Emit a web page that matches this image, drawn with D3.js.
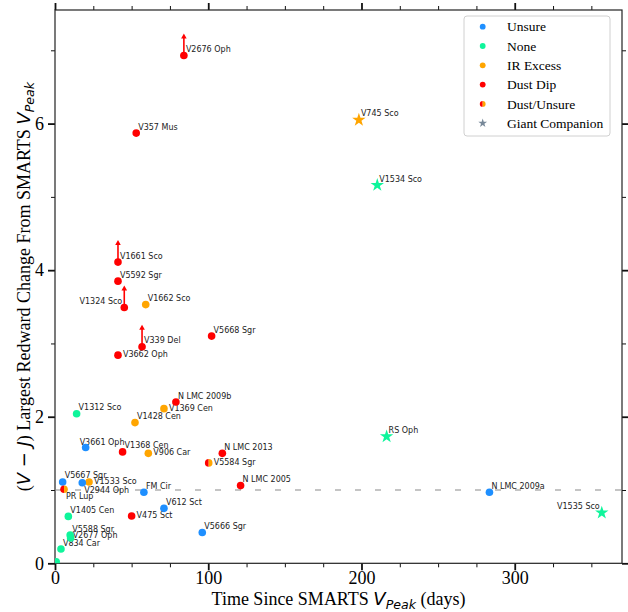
<!DOCTYPE html>
<html>
<head>
<meta charset="utf-8">
<script src="https://cdn.jsdelivr.net/npm/d3@7"></script>
<style>
  body { margin: 0; background: #fff; }
  svg { display: block; }
</style>
</head>
<body>
<svg id="chart" width="628" height="612"></svg>
<script>
// ---- data: nova name, days since V peak, largest (V-J) redward change, dust class ----
const names = [
  "V2676 Oph", "V357 Mus", "V745 Sco", "V1534 Sco", "V1661 Sco", "V5592 Sgr",
  "V1324 Sco", "V1662 Sco", "V5668 Sgr", "V339 Del", "V3662 Oph", "N LMC 2009b",
  "V1369 Cen", "V1312 Sco", "V1428 Cen", "RS Oph", "V3661 Oph", "V1368 Cen",
  "V906 Car", "N LMC 2013", "V5584 Sgr", "N LMC 2005", "V5667 Sgr", "V1533 Sco",
  "V2944 Oph", "PR Lup", "FM Cir", "N LMC 2009a", "V1535 Sco", "V1405 Cen",
  "V612 Sct", "V475 Sct", "V5666 Sgr", "V5588 Sgr", "V2677 Oph", "V834 Car", ""
];
const daysSincePeak = [
  84.1, 53.0, 198.3, 210.3, 41.1, 41.1,
  45.2, 59.2, 102.2, 56.8, 41.1, 78.9,
  71.1, 14.1, 52.2, 216.4, 20.0, 44.1,
  60.9, 109.2, 100.3, 121.1, 5.0, 22.2,
  17.8, 5.9, 58.0, 283.5, 356.8, 8.7,
  71.1, 50.0, 96.1, 9.9, 10.2, 3.9, 0.8
];
const redwardChange = [
  6.93, 5.87, 6.05, 5.16, 4.11, 3.85,
  3.49, 3.53, 3.10, 2.955, 2.84, 2.20,
  2.11, 2.04, 1.92, 1.73, 1.58, 1.52,
  1.50, 1.50, 1.37, 1.06, 1.11, 1.11,
  1.10, 1.01, 0.97, 0.97, 0.69, 0.64,
  0.75, 0.645, 0.42, 0.385, 0.345, 0.195, 0.02
];
const dustClass = [
  "Dust Dip", "Dust Dip", "IR Excess", "None", "Dust Dip", "Dust Dip",
  "Dust Dip", "IR Excess", "Dust Dip", "Dust Dip", "Dust Dip", "Dust Dip",
  "IR Excess", "None", "IR Excess", "None", "Unsure", "Dust Dip",
  "IR Excess", "Dust Dip", "Dust/Unsure", "Dust Dip", "Unsure", "IR Excess",
  "Unsure", "Dust/Unsure", "Unsure", "Unsure", "None", "None",
  "Unsure", "Dust Dip", "Unsure", "None", "None", "None", "None"
];
// novae with a giant secondary (drawn as stars)
const giantCompanions = ["V745 Sco", "V1534 Sco", "RS Oph", "V1535 Sco"];
// values that are lower limits (drawn with an upward arrow)
const lowerLimits = ["V2676 Oph", "V1661 Sco", "V1324 Sco", "V339 Del"];

const legendLabels = ["Unsure", "None", "IR Excess", "Dust Dip", "Dust/Unsure", "Giant Companion"];
const xTicksMajor = [0, 100, 200, 300];
const yTicksMajor = [0, 2, 4, 6];
const typicalLevel = 1;   // reference level drawn as a dashed line

// ---- styling ----
const colors = {
  "Unsure": "#1E8FFF",
  "None": "#0FF59B",
  "IR Excess": "#FFA500",
  "Dust Dip": "#FF0000",
  "Giant": "#778899"
};

// text placement around a mark (pixels); default is up and to the right
const labelPlacement = {
  "V1324 Sco": "w", "V1535 Sco": "w",
  "V3662 Oph": "e", "V1369 Cen": "e", "V906 Car": "e", "V5584 Sgr": "e",
  "V1533 Sco": "e", "V475 Sct": "e",
  "V2944 Oph": "s", "PR Lup": "s",
  "V3661 Oph": "nw", "V2677 Oph": "r"
};
const placements = {
  ne: { dx: 2, dy: -3.5, anchor: "start" },
  e:  { dx: 5, dy: 2,    anchor: "start" },
  s:  { dx: 2, dy: 10,   anchor: "start" },
  w:  { dx: -2, dy: -3.5, anchor: "end" },
  nw: { dx: -6, dy: -3,  anchor: "start" },
  r:  { dx: 2, dy: -0.5, anchor: "start" }
};

const svg = d3.select("#chart");
const plotL = 55, plotR = 622, plotT = 10, plotB = 563.3;

const x = d3.scaleLinear().domain([0, 370]).range([plotL, plotR]);
const y = d3.scaleLinear().domain([0, 7.55]).range([plotB, plotT]);

const serif = "'Liberation Serif', 'Times New Roman', serif";
const sans = "'DejaVu Sans', sans-serif";

// ---- axes: major + minor ticks on all four sides, pointing outward ----
function styleAxis(g, width) {
  g.select(".domain").remove();
  g.selectAll(".tick line").attr("stroke", "#111").attr("stroke-width", width);
}
const xMinor = d3.range(0, 371, 25).filter(v => v % 100 !== 0);
const yMinor = d3.range(1, 8, 2);

svg.append("g").attr("transform", `translate(0,${plotB})`)
  .call(d3.axisBottom(x).tickValues(xMinor).tickSize(4).tickFormat(""))
  .call(g => styleAxis(g, 1));
svg.append("g").attr("transform", `translate(0,${plotB})`)
  .call(d3.axisBottom(x).tickValues(xTicksMajor).tickSize(7).tickPadding(1).tickFormat(d3.format("d")))
  .call(g => styleAxis(g, 1.8))
  .call(g => g.selectAll("text").attr("font-family", serif).attr("font-size", 18).attr("fill", "#000"));
svg.append("g").attr("transform", `translate(0,${plotT})`)
  .call(d3.axisTop(x).tickValues(xMinor).tickSize(4).tickFormat(""))
  .call(g => styleAxis(g, 1));
svg.append("g").attr("transform", `translate(0,${plotT})`)
  .call(d3.axisTop(x).tickValues(xTicksMajor).tickSize(7).tickFormat(""))
  .call(g => styleAxis(g, 1.8));

svg.append("g").attr("transform", `translate(${plotL},0)`)
  .call(d3.axisLeft(y).tickValues(yMinor).tickSize(4).tickFormat(""))
  .call(g => styleAxis(g, 1));
svg.append("g").attr("transform", `translate(${plotL},0)`)
  .call(d3.axisLeft(y).tickValues(yTicksMajor).tickSize(7).tickPadding(4).tickFormat(d3.format("d")))
  .call(g => styleAxis(g, 1.8))
  .call(g => g.selectAll("text").attr("font-family", serif).attr("font-size", 18).attr("fill", "#000"));
svg.append("g").attr("transform", `translate(${plotR},0)`)
  .call(d3.axisRight(y).tickValues(yMinor).tickSize(4).tickFormat(""))
  .call(g => styleAxis(g, 1));
svg.append("g").attr("transform", `translate(${plotR},0)`)
  .call(d3.axisRight(y).tickValues(yTicksMajor).tickSize(7).tickFormat(""))
  .call(g => styleAxis(g, 1.8));

// frame
svg.append("rect")
  .attr("x", plotL).attr("y", plotT)
  .attr("width", plotR - plotL).attr("height", plotB - plotT)
  .attr("fill", "none").attr("stroke", "#222").attr("stroke-width", 1.2);

// ---- plot area ----
svg.append("clipPath").attr("id", "plotClip")
  .append("rect").attr("x", plotL).attr("y", plotT)
  .attr("width", plotR - plotL).attr("height", plotB - plotT);
const plot = svg.append("g").attr("clip-path", "url(#plotClip)");

// dashed reference line
plot.append("line")
  .attr("x1", x(0)).attr("x2", x(370))
  .attr("y1", y(typicalLevel)).attr("y2", y(typicalLevel))
  .attr("stroke", "#8a8a8a").attr("stroke-width", 1.2)
  .attr("stroke-dasharray", "6,14");

const rows = names.map((n, i) => ({
  name: n,
  x: daysSincePeak[i],
  y: redwardChange[i],
  cls: dustClass[i],
  giant: giantCompanions.includes(n),
  limit: lowerLimits.includes(n)
}));

// lower-limit arrows
const arrowLen = 0.3;
rows.filter(d => d.limit).forEach(d => {
  const px = x(d.x), py0 = y(d.y), py1 = y(d.y + arrowLen);
  plot.append("line")
    .attr("x1", px).attr("x2", px).attr("y1", py0).attr("y2", py1 + 4)
    .attr("stroke", colors["Dust Dip"]).attr("stroke-width", 1.6);
  plot.append("path")
    .attr("d", `M${px},${py1} L${px - 2.8},${py1 + 5} L${px + 2.8},${py1 + 5} Z`)
    .attr("fill", colors["Dust Dip"]);
});

// labels
rows.filter(d => d.name).forEach(d => {
  const p = placements[labelPlacement[d.name] || "ne"];
  plot.append("text")
    .attr("x", x(d.x) + p.dx).attr("y", y(d.y) + p.dy)
    .attr("text-anchor", p.anchor)
    .attr("font-family", sans).attr("font-size", 8)
    .attr("fill", "#222")
    .text(d.name);
});

// markers
const r = 3.8;
const halfArc = d3.arc().innerRadius(0).outerRadius(r);
const starPath = d3.symbol().type(d3.symbolStar).size(56);
rows.forEach(d => {
  const g = plot.append("g").attr("transform", `translate(${x(d.x)},${y(d.y)})`);
  if (d.giant) {
    g.append("path").attr("d", starPath()).attr("fill", colors[d.cls]);
  } else if (d.cls === "Dust/Unsure") {
    g.append("path").attr("d", halfArc({ startAngle: Math.PI, endAngle: 2 * Math.PI })).attr("fill", colors["Dust Dip"]);
    g.append("path").attr("d", halfArc({ startAngle: 0, endAngle: Math.PI })).attr("fill", colors["IR Excess"]);
  } else {
    g.append("circle").attr("r", r).attr("fill", colors[d.cls]);
  }
});

// ---- legend ----
const leg = svg.append("g");
leg.append("rect")
  .attr("x", 464).attr("y", 16).attr("width", 146).attr("height", 120)
  .attr("rx", 3).attr("fill", "#fff").attr("fill-opacity", 0.85)
  .attr("stroke", "#d0d0d0").attr("stroke-width", 1);
const legArc = d3.arc().innerRadius(0).outerRadius(2.9);
legendLabels.forEach((lab, i) => {
  const cy = 26.7 + i * 19.3;
  const g = leg.append("g").attr("transform", `translate(482.7,${cy})`);
  if (lab === "Giant Companion") {
    g.append("path").attr("d", d3.symbol().type(d3.symbolStar).size(24)()).attr("fill", colors.Giant);
  } else if (lab === "Dust/Unsure") {
    g.append("path").attr("d", legArc({ startAngle: Math.PI, endAngle: 2 * Math.PI })).attr("fill", colors["Dust Dip"]);
    g.append("path").attr("d", legArc({ startAngle: 0, endAngle: Math.PI })).attr("fill", colors["IR Excess"]);
  } else {
    g.append("circle").attr("r", 2.9).attr("fill", colors[lab]);
  }
  leg.append("text")
    .attr("x", 507).attr("y", cy).attr("dy", "0.35em")
    .attr("font-family", serif).attr("font-size", 13.5).attr("fill", "#000")
    .text(lab);
});

// ---- axis titles ----
const xt = svg.append("text")
  .attr("x", (plotL + plotR) / 2).attr("y", 605)
  .attr("text-anchor", "middle")
  .attr("font-family", serif).attr("font-size", 18).attr("fill", "#000");
xt.append("tspan").text("Time Since SMARTS ");
xt.append("tspan").attr("font-family", sans).attr("font-style", "italic").text("V");
xt.append("tspan").attr("font-family", sans).attr("font-style", "italic")
  .attr("font-size", 12.6).attr("dy", 3.5).text("Peak");
xt.append("tspan").attr("dy", -3.5).text(" (days)");

const yt = svg.append("text")
  .attr("transform", `translate(30,${(plotT + plotB) / 2}) rotate(-90)`)
  .attr("text-anchor", "middle")
  .attr("font-family", serif).attr("font-size", 18).attr("fill", "#000");
yt.append("tspan").text("(");
yt.append("tspan").attr("font-family", sans).attr("font-style", "italic").text("V");
yt.append("tspan").attr("font-family", sans).text(" \u2212 ");
yt.append("tspan").attr("font-family", sans).attr("font-style", "italic").text("J");
yt.append("tspan").text(") Largest Redward Change From SMARTS ");
yt.append("tspan").attr("font-family", sans).attr("font-style", "italic").text("V");
yt.append("tspan").attr("font-family", sans).attr("font-style", "italic")
  .attr("font-size", 12.6).attr("dy", 3.5).text("Peak");
</script>
</body>
</html>
